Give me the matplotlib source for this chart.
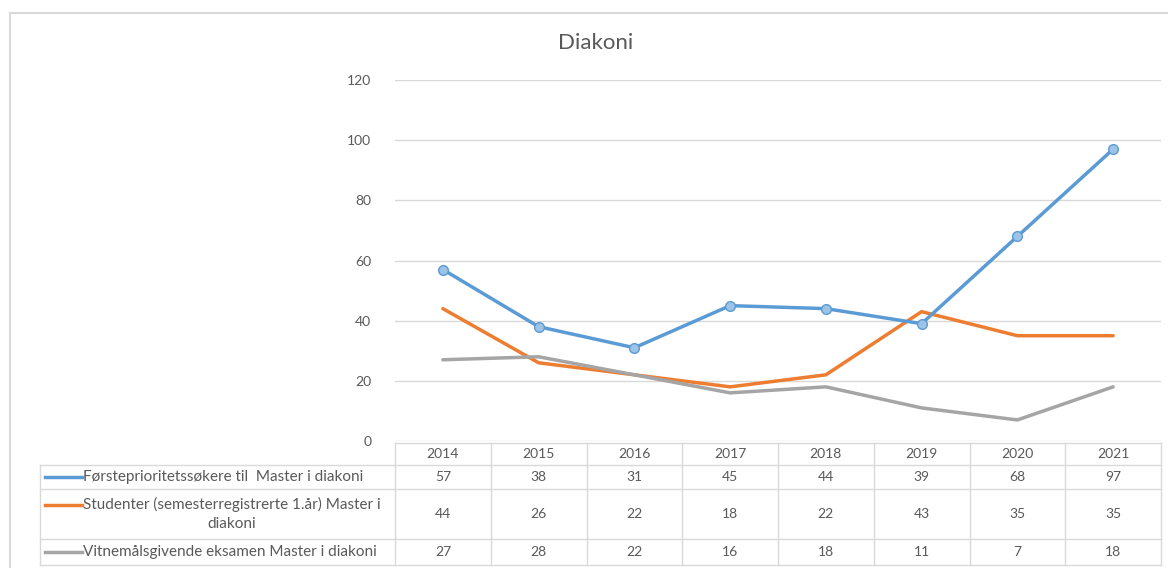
import matplotlib.pyplot as plt
import matplotlib.transforms as mtransforms
from matplotlib.lines import Line2D

# data
years = ['2014', '2015', '2016', '2017', '2018', '2019', '2020', '2021']
forsteprioritet = [57, 38, 31, 45, 44, 39, 68, 97]
studenter = [44, 26, 22, 18, 22, 43, 35, 35]
vitnemal = [27, 28, 22, 16, 18, 11, 7, 18]
series_labels = [
    'Førsteprioritetssøkere til  Master i diakoni',
    'Studenter (semesterregistrerte 1.år) Master i\ndiakoni',
    'Vitnemålsgivende eksamen Master i diakoni',
]
yticks = [0, 20, 40, 60, 80, 100, 120]

colors = ['#5B9BD5', '#ED7D31', '#A5A5A5']
text_col = '#595959'
grid_col = '#D9D9D9'

W, H = 1168, 568
plt.rcParams['font.family'] = ['Lato', 'DejaVu Sans']

fig = plt.figure(figsize=(W / 100, H / 100), dpi=100)


def fx(px):
    return px / W


def fy(py):
    return 1 - py / H


# plot area in pixels
left, right, top, bottom = 395, 1161, 80, 441
ax = fig.add_axes([fx(left), fy(bottom), fx(right - left), (bottom - top) / H])

x = list(range(len(years)))
ax.plot(x, forsteprioritet, color=colors[0], lw=2.5, marker='o', ms=7,
        mfc='#9DC3E6', mec=colors[0], mew=1, solid_capstyle='round', zorder=3)
ax.plot(x, studenter, color=colors[1], lw=2.5, solid_capstyle='round', zorder=2)
ax.plot(x, vitnemal, color=colors[2], lw=2.5, solid_capstyle='round', zorder=2)

ax.set_xlim(-0.5, len(years) - 0.5)
ax.set_ylim(0, 120)
ax.set_yticks(yticks)
ax.set_xticks([])
ax.tick_params(axis='y', length=0, pad=17, labelsize=10, labelcolor=text_col)
ax.grid(axis='y', color=grid_col, lw=1)
ax.set_axisbelow(True)
for s in ax.spines.values():
    s.set_visible(False)

fig.text(fx(596), fy(43), 'Diakoni', ha='center', va='center',
         fontsize=16, color=text_col)

# data table under the plot
trans = mtransforms.blended_transform_factory(ax.transData, fig.transFigure)
row_edges = [443, 465, 489, 539, 565]
tbl_left = 40

# vertical lines at column boundaries
for i in range(len(years) + 1):
    ax.add_line(Line2D([i - 0.5, i - 0.5], [fy(row_edges[0]), fy(row_edges[-1])],
                       transform=trans, color=grid_col, lw=1, clip_on=False))
ax.add_line(Line2D([-0.5, len(years) - 0.5], [fy(row_edges[0])] * 2,
                   transform=trans, color=grid_col, lw=1, clip_on=False))
for ry in row_edges[1:]:
    fig.add_artist(Line2D([fx(tbl_left), fx(right)], [fy(ry)] * 2,
                          color=grid_col, lw=1))
fig.add_artist(Line2D([fx(tbl_left)] * 2, [fy(row_edges[1]), fy(row_edges[-1])],
                      color=grid_col, lw=1))

# header
for i, yr in enumerate(years):
    ax.text(i, fy((row_edges[0] + row_edges[1]) / 2), yr, transform=trans,
            ha='center', va='center', fontsize=10, color=text_col)

# rows
for r, (vals, lab, c) in enumerate(zip([forsteprioritet, studenter, vitnemal],
                                         series_labels, colors)):
    yc = fy((row_edges[r + 1] + row_edges[r + 2]) / 2)
    for i, v in enumerate(vals):
        ax.text(i, yc, str(v), transform=trans, ha='center', va='center',
                fontsize=10, color=text_col)
    line_y = yc if '\n' not in lab else yc + 9 / H
    fig.add_artist(Line2D([fx(45), fx(82)], [line_y, line_y], color=c, lw=2.5))
    fig.text(fx(83), yc, lab, ha='left', va='center', ma='center',
             fontsize=11, color=text_col, linespacing=1.45)

# chart frame
fig.add_artist(Line2D([fx(10), fx(10)], [fy(13), 0], color=grid_col, lw=1.5))
fig.add_artist(Line2D([fx(10), 1], [fy(13), fy(13)], color=grid_col, lw=1.5))

fig.savefig('out.png', dpi=100)
